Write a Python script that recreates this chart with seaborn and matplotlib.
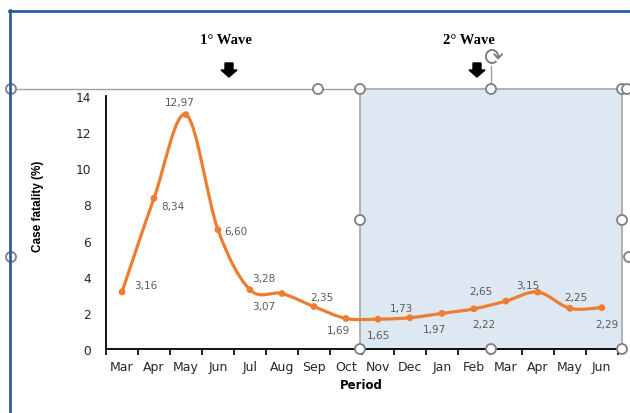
import numpy as np
import pandas as pd
import matplotlib.pyplot as plt
import seaborn as sns
from matplotlib.path import Path
from matplotlib.patches import PathPatch, Rectangle, Ellipse, Polygon
from matplotlib.lines import Line2D

# Data
months = ["Mar", "Apr", "May", "Jun", "Jul", "Aug", "Sep", "Oct",
          "Nov", "Dec", "Jan", "Feb", "Mar", "Apr", "May", "Jun"]
fatality = [3.16, 8.34, 12.97, 6.60, 3.28, 3.07, 2.35, 1.69,
            1.65, 1.73, 1.97, 2.22, 2.65, 3.15, 2.25, 2.29]
yticks = [0, 2, 4, 6, 8, 10, 12, 14]

# label offsets in pixels (dx, dy) relative to each point
label_offsets = [(24, 7), (19, -8), (-6, 13), (18, -1), (14, 12), (-18, -12),
                 (8, 10), (-7, -12), (1, -16), (-8, 10), (-7, -16), (10, -15),
                 (-25, 10), (-10, 7), (6, 11), (5, -16)]

orange = "#ED7D31"
W, H = 630, 414


def fp(x, y):
    # pixel (from top-left) -> figure fraction
    return (x / W, 1 - y / H)


fig = plt.figure(figsize=(6.3, 4.14), dpi=100, facecolor="white")
ax = fig.add_axes([106 / W, 1 - 350 / H, 515 / W, 253 / H])

# shaded second-wave box
ax.add_patch(Rectangle(fp(360, 350), 262 / W, 260 / H, transform=fig.transFigure,
                       facecolor="#DEE8F3", edgecolor="#A6A6A6", lw=1.2,
                       zorder=0.5, clip_on=False))

# smoothed line (bezier through the points)
x = np.arange(len(fatality))
y = np.array(fatality)
n = len(y)
verts = [(x[0], y[0])]
codes = [Path.MOVETO]
for i in range(n - 1):
    p0 = i - 1 if i > 0 else i
    p3 = i + 2 if i + 2 < n else i + 1
    c1 = (x[i] + (x[i + 1] - x[p0]) / 6, y[i] + (y[i + 1] - y[p0]) / 6)
    c2 = (x[i + 1] - (x[p3] - x[i]) / 6, y[i + 1] - (y[p3] - y[i]) / 6)
    verts += [c1, c2, (x[i + 1], y[i + 1])]
    codes += [Path.CURVE4] * 3
ax.add_patch(PathPatch(Path(verts, codes), fill=False, edgecolor=orange,
                       lw=2.3, capstyle="round", joinstyle="round", zorder=2))

df = pd.DataFrame({"idx": x, "fatality": fatality})
sns.scatterplot(data=df, x="idx", y="fatality", color=orange, s=24,
                edgecolor="none", zorder=3, ax=ax)

for i, (v, (dx, dy)) in enumerate(zip(fatality, label_offsets)):
    ax.annotate(f"{v:.2f}".replace(".", ","), xy=(i, v), xytext=(dx, dy),
                textcoords="offset pixels", ha="center", va="center",
                fontsize=7.5, color="#595959", zorder=4)

ax.set_xlim(-0.5, 15.6)
ax.set_ylim(0, 14)
ax.set_xticks(x, months)
ax.set_xticks(np.arange(-0.5, 16, 1), minor=True)
ax.set_yticks(yticks)
ax.tick_params(axis="x", which="major", length=0, pad=8, labelsize=9,
               labelcolor="#262626")
ax.tick_params(axis="x", which="minor", length=4, width=1.2, color="black")
ax.tick_params(axis="y", length=0, pad=11, labelsize=8.8, labelcolor="#262626")
ax.set_xlabel("")
ax.set_ylabel("")
for s in ["top", "right"]:
    ax.spines[s].set_visible(False)
for s in ["left", "bottom"]:
    ax.spines[s].set_linewidth(1.3)
    ax.spines[s].set_color("black")
ax.set_facecolor("white")

fig.text(*fp(38, 206), "Case fatality (%)", rotation=90, fontsize=8.5,
         fontweight="bold", ha="center", va="center",
         family=["Liberation Sans Narrow", "Liberation Sans", "DejaVu Sans"])
fig.text(*fp(361, 386), "Period", fontsize=8.5, fontweight="bold",
         ha="center", va="center")

# wave annotations
for cx, txt in [(226, "1° Wave"), (469, "2° Wave")]:
    fig.text(*fp(cx, 41), txt, fontsize=10.5, fontweight="bold",
             family=["Liberation Serif", "DejaVu Serif"], ha="center", va="center")
for cx in [229, 477]:
    pts = [(cx - 4, 64), (cx + 4, 64), (cx + 4, 71), (cx + 8, 71),
           (cx, 78), (cx - 8, 71), (cx - 4, 71)]
    fig.add_artist(Polygon([fp(px, py) for px, py in pts], closed=True,
                           transform=fig.transFigure, color="black", zorder=5))

# selection lines
fig.add_artist(Line2D([fp(10, 90)[0], fp(360, 90)[0]], [fp(10, 90)[1]] * 2,
                      transform=fig.transFigure, color="#A0A0A0", lw=1, zorder=5))
fig.add_artist(Line2D([fp(491, 67)[0]] * 2, [fp(491, 67)[1], fp(491, 90)[1]],
                      transform=fig.transFigure, color="#A0A0A0", lw=1, zorder=5))
fig.text(*fp(493, 58), "\u27f3", fontsize=17, color="#7F7F7F",
         ha="center", va="center", family="DejaVu Sans", zorder=6)

handles = [(11, 90), (318, 90), (360, 90), (491, 90), (622, 90), (627, 90),
           (360, 221), (622, 221), (11, 258), (629, 258),
           (360, 350), (491, 350), (622, 350)]
for hx, hy in handles:
    fig.add_artist(Ellipse(fp(hx, hy), 10 / W, 10 / H, transform=fig.transFigure,
                           facecolor="white", edgecolor="#7F7F7F", lw=1.3, zorder=6))

# blue frame
fig.add_artist(Line2D([fp(9.5, 0)[0]] * 2, [fp(0, 11)[1], 0],
                      transform=fig.transFigure, color="#1E5A9C", lw=1.9, zorder=7))
fig.add_artist(Line2D([fp(9, 0)[0], 1], [fp(0, 11.5)[1]] * 2,
                      transform=fig.transFigure, color="#1E5A9C", lw=1.9, zorder=7))

fig.savefig("out.png", dpi=100, facecolor="white")
